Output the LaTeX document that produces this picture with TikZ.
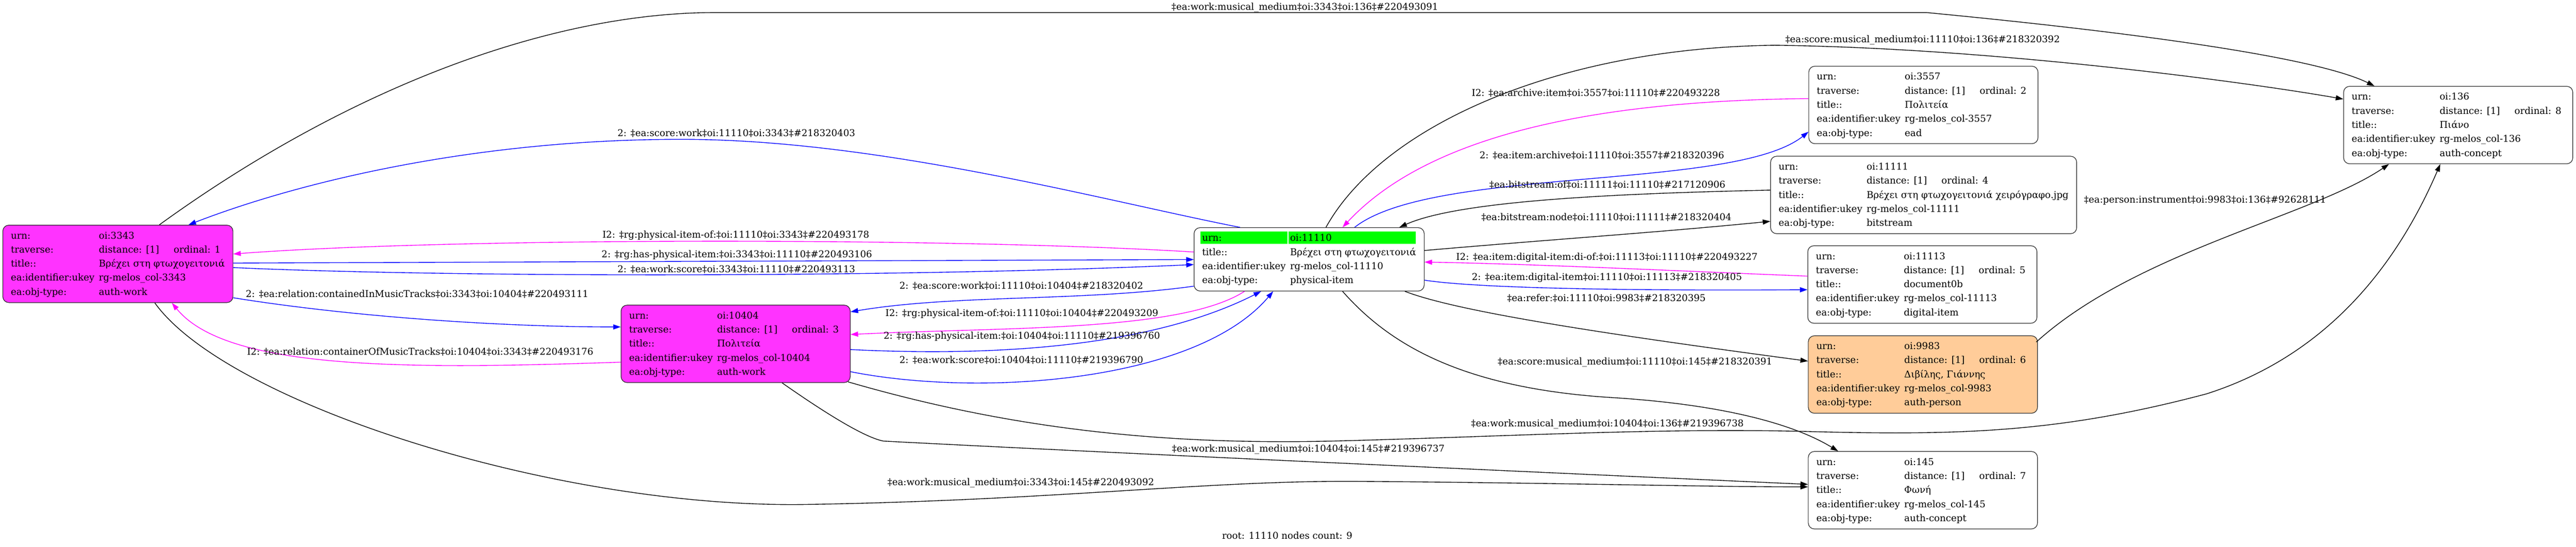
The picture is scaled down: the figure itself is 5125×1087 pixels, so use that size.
\documentclass[tikz,border=0pt]{standalone}
\usepackage{fontspec}
\setmainfont{DejaVu Serif}
\usepackage{array}
\usetikzlibrary{arrows.meta}
\usetikzlibrary{calc}
\usetikzlibrary{backgrounds}

\definecolor{workpink}{HTML}{FF33FF}
\definecolor{personorange}{HTML}{FFCC99}
\definecolor{rootgreen}{HTML}{00FF00}
\definecolor{linkblue}{HTML}{0000FF}
\definecolor{linkpink}{HTML}{FF00FF}

\setlength{\tabcolsep}{0pt}
\renewcommand{\arraystretch}{0}
\newcommand{\rowstrut}{\rule[-4pt]{0pt}{14pt}}
% one record: urn, ordinal, title, ukey, type
\newcommand{\objrec}[5]{%
  \begin{tabular}{>{\rowstrut}p{87.5pt}p{74.5pt}p{50pt}}
    urn: & \multicolumn{2}{l}{#1}\\
    traverse: & distance: [1] & ordinal: #2\\
    title:: & \multicolumn{2}{l}{#3}\\
    ea:identifier:ukey & \multicolumn{2}{l}{#4}\\
    ea:obj-type: & \multicolumn{2}{l}{#5}
  \end{tabular}}

\tikzset{
  rec/.style={draw=black!85, line width=0.6pt, rounded corners=6pt,
    inner xsep=8pt, inner ysep=3.5pt, anchor=north west},
  lbl/.style={inner sep=0pt},
  link/.style={line width=0.7pt, -{Triangle[length=7.5pt,width=5pt]}}
}

\begin{document}
\begin{tikzpicture}[x=0.5pt, y=-0.5pt, font=\fontsize{9.33}{11.2}\selectfont]
\useasboundingbox (0,0) rectangle (5125,1087);

%records
\node[rec, fill=workpink] (oi3343) at (5,447)
  {\objrec{oi:3343}{1}{Βρέχει στη φτωχογειτονιά}{rg-melos\_col-3343}{auth-work}};
\node[rec, fill=workpink] (oi10404) at (1235,606)
  {\objrec{oi:10404}{3}{Πολιτεία}{rg-melos\_col-10404}{auth-work}};
\node[rec] (oi11110) at (2375,452) {%
  \begin{tabular}{>{\rowstrut}p{87.5pt}p{74.5pt}p{50pt}}
    urn: & \multicolumn{2}{l}{oi:11110}\\
    title:: & \multicolumn{2}{l}{Βρέχει στη φτωχογειτονιά}\\
    ea:identifier:ukey & \multicolumn{2}{l}{rg-melos\_col-11110}\\
    ea:obj-type: & \multicolumn{2}{l}{physical-item}
  \end{tabular}};
\node[rec] (oi3557) at (3598,131)
  {\objrec{oi:3557}{2}{Πολιτεία}{rg-melos\_col-3557}{ead}};
\node[rec] (oi11111) at (3522,310)
  {\objrec{oi:11111}{4}{Βρέχει στη φτωχογειτονιά χειρόγραφο.jpg}{rg-melos\_col-11111}{bitstream}};
\node[rec] (oi11113) at (3596,488)
  {\objrec{oi:11113}{5}{document0b}{rg-melos\_col-11113}{digital-item}};
\node[rec, fill=personorange] (oi9983) at (3597,667)
  {\objrec{oi:9983}{6}{Διβίλης, Γιάννης}{rg-melos\_col-9983}{auth-person}};
\node[rec] (oi145) at (3597,897)
  {\objrec{oi:145}{7}{Φωνή}{rg-melos\_col-145}{auth-concept}};
\node[rec] (oi136) at (4662,171)
  {\objrec{oi:136}{8}{Πιάνο}{rg-melos\_col-136}{auth-concept}};

%root row
\begin{scope}[on background layer]
  \fill[rootgreen] ($(oi11110.north west)+(13,8)$) rectangle +(173,25);
  \fill[rootgreen] ($(oi11110.north west)+(188,8)$) rectangle +(254,25);
\end{scope}

%links
\draw[link] ($(oi3343.north west)+(312,0)$) .. controls (700,170) and (1100,25) .. (1422,25)
  -- (3833,25) .. controls (4200,60) and (4600,110) .. ($(oi136.north west)+(62,0)$);
\draw[link] ($(oi11110.north west)+(263,0)$) .. controls (2750,250) and (3100,95) .. (3531,90)
  .. controls (3950,95) and (4450,160) .. ($(oi136.north west)+(0,26)$);
\draw[link,linkblue] ($(oi11110.north west)+(92,0)$) .. controls (2200,400) and (1750,277) .. (1355,277)
  .. controls (950,277) and (600,360) .. ($(oi3343.north west)+(370,0)$);
\draw[link,linkpink] ($(oi11110.north west)+(0,49)$) .. controls (1900,472) and (900,472) .. ($(oi3343.north east)+(0,58)$);
\draw[link,linkblue] ($(oi3343.north east)+(0,76)$) -- ($(oi11110.north west)+(0,64)$);
\draw[link,linkblue] ($(oi3343.north east)+(0,85)$) .. controls (900,552) and (1800,552) .. ($(oi11110.north west)+(0,74)$);
\draw[link,linkblue] ($(oi3343.north east)+(0,145)$) .. controls (700,630) and (1000,650) .. ($(oi10404.north west)+(0,44)$);
\draw[link,linkpink] ($(oi10404.north west)+(0,114)$) .. controls (800,735) and (450,735) .. ($(oi3343.south west)+(337,0)$);
\draw[link,linkblue] ($(oi11110.north west)+(0,117)$) .. controls (2150,600) and (1900,585) .. ($(oi10404.north east)+(0,14)$);
\draw[link,linkpink] ($(oi11110.south west)+(101,0)$) .. controls (2350,660) and (2000,650) .. ($(oi10404.north east)+(0,59)$);
\draw[link,linkblue] ($(oi10404.north east)+(0,89)$) .. controls (2100,715) and (2350,660) .. ($(oi11110.south west)+(134,0)$);
\draw[link,linkblue] ($(oi10404.north east)+(0,133)$) .. controls (1950,790) and (2380,760) .. ($(oi11110.south west)+(158,0)$);
\draw[link,linkblue] ($(oi11110.north west)+(320,0)$) .. controls (2850,330) and (3450,380) .. ($(oi3557.north west)+(0,131)$);
\draw[link,linkpink] ($(oi3557.north west)+(0,65)$) .. controls (3200,200) and (2850,260) .. ($(oi11110.north west)+(296,0)$);
\draw[link] ($(oi11110.north east)+(0,46)$) .. controls (3100,475) and (3300,462) .. ($(oi11111.north west)+(0,130)$);
\draw[link] ($(oi11111.north west)+(0,68)$) .. controls (3200,385) and (2900,400) .. ($(oi11110.north west)+(409,0)$);
\draw[link,linkpink] ($(oi11113.north west)+(0,61)$) .. controls (3300,537) and (3050,525) .. ($(oi11110.north east)+(0,69)$);
\draw[link,linkblue] ($(oi11110.north east)+(0,105)$) .. controls (2950,575) and (3300,578) .. ($(oi11113.north west)+(0,88)$);
\draw[link] ($(oi11110.south west)+(420,0)$) .. controls (2900,620) and (3200,665) .. ($(oi9983.north west)+(0,51)$);
\draw[link] ($(oi11110.south west)+(296,0)$) .. controls (2760,680) and (2900,770) .. (3200,790)
  .. controls (3450,805) and (3580,850) .. ($(oi145.north west)+(60,0)$);
\draw[link] ($(oi10404.south east)+(-5,-2)$) .. controls (2000,850) and (2300,885) .. (2648,877)
  .. controls (3000,868) and (3300,850) .. (3600,858) .. controls (3900,866) and (4100,860) .. (4390,783)
  .. controls (4650,700) and (4780,500) .. ($(oi136.south west)+(193,0)$);
\draw[link] ($(oi9983.north east)+(-3,13)$) .. controls (4250,500) and (4600,430) .. ($(oi136.south west)+(91,0)$);
\draw[link] ($(oi10404.south west)+(321,0)$) .. controls (1640,820) and (1720,870) .. (1758,877)
  .. controls (2300,905) and (3200,945) .. ($(oi145.north west)+(0,66)$);
\draw[link] ($(oi3343.south west)+(303,0)$) .. controls (450,800) and (1100,1010) .. (1600,1003)
  .. controls (2100,995) and (2400,955) .. (2700,957) .. controls (3100,960) and (3400,968) .. ($(oi145.north west)+(0,71)$);

%link labels
\node[lbl] (e1) at (2596,15) {‡ea:work:musical\_medium‡oi:3343‡oi:136‡\#220493091};
\node[lbl] (e2) at (3825,80) {‡ea:score:musical\_medium‡oi:11110‡oi:136‡\#218320392};
\node[lbl] (e3) at (1465,265) {2: ‡ea:score:work‡oi:11110‡oi:3343‡\#218320403};
\node[lbl] (e4) at (1464,468) {I2: ‡rg:physical-item-of:‡oi:11110‡oi:3343‡\#220493178};
\node[lbl] (e5) at (1466,507) {2: ‡rg:has-physical-item:‡oi:3343‡oi:11110‡\#220493106};
\node[lbl] (e6) at (1465,536) {2: ‡ea:work:score‡oi:3343‡oi:11110‡\#220493113};
\node[lbl] (e7) at (830,585) {2: ‡ea:relation:containedInMusicTracks‡oi:3343‡oi:10404‡\#220493111};
\node[lbl] (e8) at (836,700) {I2: ‡ea:relation:containerOfMusicTracks‡oi:10404‡oi:3343‡\#220493176};
\node[lbl] (e9) at (2032,568) {2: ‡ea:score:work‡oi:11110‡oi:10404‡\#218320402};
\node[lbl] (e10) at (2033,624) {I2: ‡rg:physical-item-of:‡oi:11110‡oi:10404‡\#220493209};
\node[lbl] (e11) at (2033,669) {2: ‡rg:has-physical-item:‡oi:10404‡oi:11110‡\#219396760};
\node[lbl] (e12) at (2032,716) {2: ‡ea:work:score‡oi:10404‡oi:11110‡\#219396790};
\node[lbl] (e13) at (3187,309) {2: ‡ea:item:archive‡oi:11110‡oi:3557‡\#218320396};
\node[lbl] (e14) at (3175,185) {I2: ‡ea:archive:item‡oi:3557‡oi:11110‡\#220493228};
\node[lbl] (e15) at (3196,432) {‡ea:bitstream:node‡oi:11110‡oi:11111‡\#218320404};
\node[lbl] (e16) at (3198,367) {‡ea:bitstream:of‡oi:11111‡oi:11110‡\#217120906};
\node[lbl] (e17) at (3197,512) {I2: ‡ea:item:digital-item:di-of:‡oi:11113‡oi:11110‡\#220493227};
\node[lbl] (e18) at (3197,552) {2: ‡ea:item:digital-item‡oi:11110‡oi:11113‡\#218320405};
\node[lbl] (e19) at (3196,593) {‡ea:refer:‡oi:11110‡oi:9983‡\#218320395};
\node[lbl] (e20) at (3253,720) {‡ea:score:musical\_medium‡oi:11110‡oi:145‡\#218320391};
\node[lbl] (e21) at (3198,843) {‡ea:work:musical\_medium‡oi:10404‡oi:136‡\#219396738};
\node[lbl] (e22) at (4387,398) {‡ea:person:instrument‡oi:9983‡oi:136‡\#92628111};
\node[lbl] (e23) at (2603,893) {‡ea:work:musical\_medium‡oi:10404‡oi:145‡\#219396737};
\node[lbl] (e24) at (2031,960) {‡ea:work:musical\_medium‡oi:3343‡oi:145‡\#220493092};
\node[lbl] (rootinfo) at (2561,1065) {root: 11110 nodes count: 9};
\end{tikzpicture}
\end{document}
